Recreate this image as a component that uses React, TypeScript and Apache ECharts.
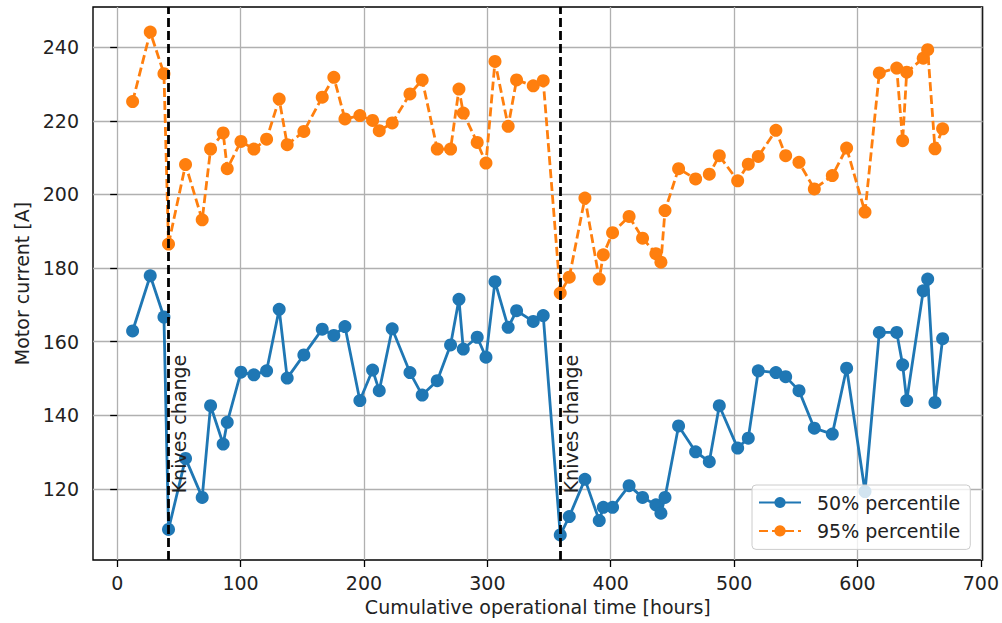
import React, { useEffect, useRef } from "react";
import * as echarts from "echarts";

// Cumulative operational time [hours]
const hours = [
  12.5, 26.8, 37.9, 41.6, 55.4, 68.9, 75.7, 85.9, 89.2, 100.3,
  110.8, 121.1, 131.3, 137.8, 151.3, 166.2, 175.6, 184.6, 196.7, 207.0,
  212.4, 222.9, 237.3, 247.2, 259.4, 270.2, 277.0, 280.5, 291.8, 298.9,
  306.2, 316.9, 323.7, 337.2, 345.3, 359.1, 366.4, 379.1, 390.7, 394.0,
  401.5, 414.9, 425.8, 436.6, 440.7, 444.0, 455.0, 468.8, 479.9, 488.0,
  502.9, 511.5, 519.6, 533.9, 541.8, 552.6, 565.0, 579.6, 591.2, 606.1,
  617.7, 631.8, 636.6, 639.9, 653.3, 656.9, 662.8, 669.0,
];

// 50% percentile motor current [A]
const p50 = [
  162.9, 177.9, 166.7, 109.0, 128.3, 117.7, 142.6, 132.2, 138.1, 151.7,
  151.0, 152.1, 168.8, 150.1, 156.4, 163.4, 161.7, 164.1, 144.0, 152.3,
  146.7, 163.5, 151.6, 145.5, 149.4, 159.1, 171.5, 158.0, 161.2, 155.8,
  176.3, 163.9, 168.4, 165.5, 167.1, 107.5, 112.5, 122.6, 111.4, 115.0,
  115.0, 120.9, 117.7, 115.7, 113.4, 117.7, 137.1, 130.1, 127.4, 142.6,
  131.1, 133.8, 152.1, 151.6, 150.5, 146.7, 136.5, 134.9, 152.8, 119.3,
  162.5, 162.5, 153.7, 144.0, 173.8, 177.0, 143.5, 160.8,
];

// 95% percentile motor current [A]
const p95 = [
  225.2, 244.1, 232.8, 186.5, 208.1, 193.1, 212.3, 216.7, 207.0, 214.4,
  212.3, 215.0, 225.9, 213.5, 217.1, 226.4, 231.8, 220.5, 221.4, 220.1,
  217.3, 219.4, 227.3, 231.1, 212.3, 212.3, 228.6, 222.1, 214.1, 208.5,
  236.1, 218.5, 231.1, 229.5, 230.9, 173.2, 177.5, 199.0, 177.0, 183.6,
  189.6, 194.0, 188.1, 183.9, 181.6, 195.6, 207.0, 204.2, 205.5, 210.5,
  203.7, 208.2, 210.3, 217.4, 210.5, 208.7, 201.5, 205.1, 212.6, 195.2,
  233.0, 234.3, 214.6, 233.2, 237.0, 239.3, 212.4, 217.8,
];

const knifeChanges = [41.6, 359.1];
const knifeLabel = "Knives change";
const knifeLabelY = 118.8;

const xTicks = [0, 100, 200, 300, 400, 500, 600, 700];
const yTicks = [120, 140, 160, 180, 200, 220, 240];
const xRange = [-19.6, 701.4];
const yRange = [100.7, 250.9];

const seriesNames = ["50% percentile", "95% percentile"];
const xName = "Cumulative operational time [hours]";
const yName = "Motor current [A]";

const FONT = "'DejaVu Sans', 'Liberation Sans', sans-serif";
const BLUE = "#1f77b4";
const ORANGE = "#ff7f0e";

export default function App() {
  const ref = useRef<HTMLDivElement>(null);

  useEffect(() => {
    if (!ref.current) return;
    const chart = echarts.init(ref.current, null, { renderer: "svg" });

    const axisCommon = {
      axisLine: { show: false },
      axisTick: {
        show: true,
        length: 7,
        lineStyle: { color: "#000", width: 1.3 },
      },
      splitLine: {
        show: true,
        lineStyle: { color: "#b0b0b0", width: 1.3 },
      },
    };

    chart.setOption({
      animation: false,
      backgroundColor: "#ffffff",
      grid: {
        left: 93,
        right: 19,
        top: 7,
        bottom: 63,
        show: true,
        borderColor: "#000",
        borderWidth: 1.4,
        backgroundColor: "transparent",
        containLabel: false,
      },
      legend: {
        orient: "vertical",
        left: 752,
        top: 485,
        data: seriesNames,
        itemWidth: 42,
        itemHeight: 14,
        itemGap: 9.4,
        padding: [8, 10, 9, 6],
        backgroundColor: "rgba(255,255,255,0.8)",
        borderColor: "#cccccc",
        borderWidth: 1,
        borderRadius: 4,
        z: 10,
        selectedMode: false,
        textStyle: {
          fontFamily: FONT,
          fontSize: 19,
          color: "#222",
          lineHeight: 19,
          padding: [0, 0, 0, 11],
        },
      },
      xAxis: {
        type: "value",
        min: xRange[0],
        max: xRange[1],
        name: xName,
        nameLocation: "middle",
        nameGap: 37,
        nameTextStyle: { fontFamily: FONT, fontSize: 19, color: "#222" },
        ...axisCommon,
        axisTick: { ...axisCommon.axisTick, customValues: xTicks },
        axisLabel: {
          customValues: xTicks,
          margin: 13,
          fontFamily: FONT,
          fontSize: 19,
          color: "#222",
        },
      },
      yAxis: {
        type: "value",
        min: yRange[0],
        max: yRange[1],
        name: yName,
        nameLocation: "middle",
        nameRotate: 90,
        nameGap: 56,
        nameTextStyle: { fontFamily: FONT, fontSize: 19, color: "#222" },
        ...axisCommon,
        axisTick: { ...axisCommon.axisTick, customValues: yTicks },
        axisLabel: {
          customValues: yTicks,
          margin: 14,
          fontFamily: FONT,
          fontSize: 19,
          color: "#222",
        },
      },
      series: [
        {
          name: seriesNames[0],
          type: "line",
          data: hours.map((h, i) => [h, p50[i]]),
          symbol: "circle",
          symbolSize: 13,
          showAllSymbol: true,
          color: BLUE,
          itemStyle: { color: BLUE },
          lineStyle: { color: BLUE, width: 2.8 },
          emphasis: { disabled: true },
          z: 3,
        },
        {
          name: seriesNames[1],
          type: "line",
          data: hours.map((h, i) => [h, p95[i]]),
          symbol: "circle",
          symbolSize: 13,
          showAllSymbol: true,
          color: ORANGE,
          itemStyle: { color: ORANGE },
          lineStyle: { color: ORANGE, width: 2.8, type: [9, 4] },
          emphasis: { disabled: true },
          z: 4,
          markLine: {
            silent: true,
            symbol: ["none", "none"],
            label: { show: false },
            lineStyle: { color: "#000", width: 2.8, type: [9, 4] },
            emphasis: { disabled: true },
            data: knifeChanges.map((x) => ({ xAxis: x })),
          },
        },
      ],
    });

    const graphics = knifeChanges.map((x) => {
      const p = chart.convertToPixel({ xAxisIndex: 0, yAxisIndex: 0 }, [x, knifeLabelY]) as number[];
      return {
        type: "text",
        x: p[0] + 1,
        y: p[1],
        rotation: Math.PI / 2,
        z: 20,
        silent: true,
        style: {
          text: knifeLabel,
          fontFamily: FONT,
          fontSize: 19,
          fill: "#222",
          align: "left",
          verticalAlign: "top",
        },
      };
    });
    chart.setOption({ graphic: graphics });

    return () => chart.dispose();
  }, []);

  return (
    <div
      ref={ref}
      style={{ position: "fixed", left: 0, top: 0, width: 1002, height: 623 }}
    />
  );
}
